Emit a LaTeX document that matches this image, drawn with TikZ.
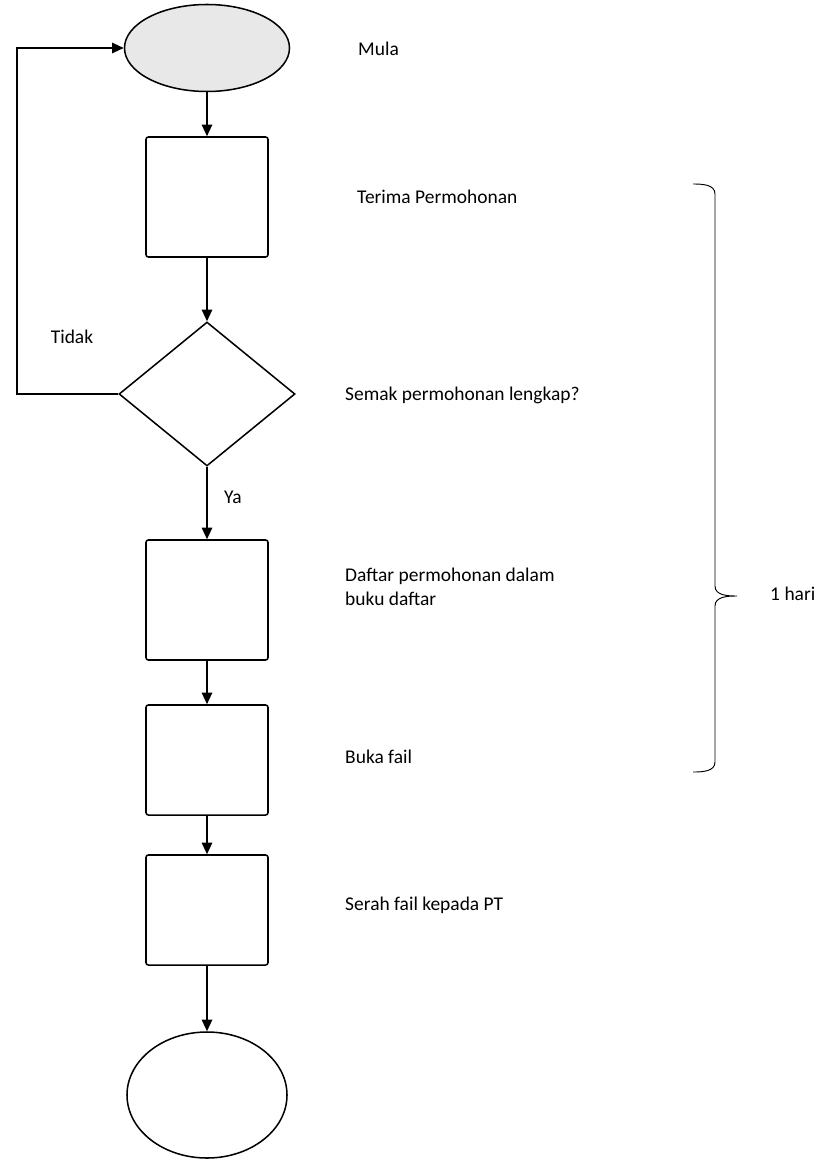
\documentclass[tikz,border=0pt]{standalone}
\usepackage{fontspec}
\setmainfont{Carlito}
\usepackage{tikz}
\usetikzlibrary{shapes.geometric,arrows.meta,positioning}

\begin{document}
\begin{tikzpicture}[
  x=0.03cm,y=-0.03cm,
  every node/.style={font=\fontsize{16.6}{20.5}\selectfont},
  oval/.style={draw,ellipse,line width=1.3pt,inner sep=0pt},
  box/.style={draw,rectangle,rounded corners=2pt,line width=1.3pt,
              minimum width=3.66cm,inner sep=0pt},
  decision/.style={draw,diamond,line width=1.3pt,inner sep=0pt,
              minimum width=5.28cm,minimum height=4.32cm},
  lbl/.style={anchor=west,align=left,inner sep=0pt},
  arr/.style={-{Triangle[length=10pt,width=9pt]},line width=1.3pt},
]
\useasboundingbox (0,0) rectangle (834,1160);
% shapes
\node[oval,fill=gray!18,minimum width=4.95cm,minimum height=2.61cm] (mula) at (207,48) {};
\node[box,minimum height=3.6cm] (terima) at (207,197) {};
\node[decision] (semak) at (207,394) {};
\node[box,minimum height=3.6cm] (daftar) at (207,600) {};
\node[box,minimum height=3.3cm] (buka) at (207,760) {};
\node[box,minimum height=3.3cm] (serah) at (207,910) {};
\node[oval,minimum width=4.8cm,minimum height=3.78cm] (tamat) at (207,1095) {};
% labels
\node[lbl] (tmula) at (358,49) {Mula};
\node[lbl] (tterima) at (357,197) {Terima Permohonan};
\node[lbl] (tsemak) at (345,395) {Semak permohonan lengkap?};
\node[lbl] (tdaftar) at (345,587) {Daftar permohonan dalam\\buku daftar};
\node[lbl] (tbuka) at (345,757) {Buka fail};
\node[lbl] (tserah) at (345,905) {Serah fail kepada PT};
\node (tidak) at (72,337) {Tidak};
\node (ya) at (233,497) {Ya};
\node[anchor=west,inner sep=0pt] (hari) at (770,594) {1 hari};
% connectors
\draw[arr] (mula) -- (terima);
\draw[arr] (terima) -- (semak);
\draw[arr] (semak.south) -- (daftar.north);
\draw[arr] (daftar) -- (buka);
\draw[arr] (buka) -- (serah);
\draw[arr] (serah) -- (tamat);
\coordinate (loop) at (17,394);
\draw[arr] (semak.west) -- (loop) |- (mula.west);
% brace
\draw[line width=0.8pt] (693,184) to[out=0,in=90] (715,194) -- (715,586)
  to[out=-90,in=180] (737,596) to[out=180,in=90] (715,606) -- (715,762)
  to[out=-90,in=0] (693,772);
\end{tikzpicture}
\end{document}
